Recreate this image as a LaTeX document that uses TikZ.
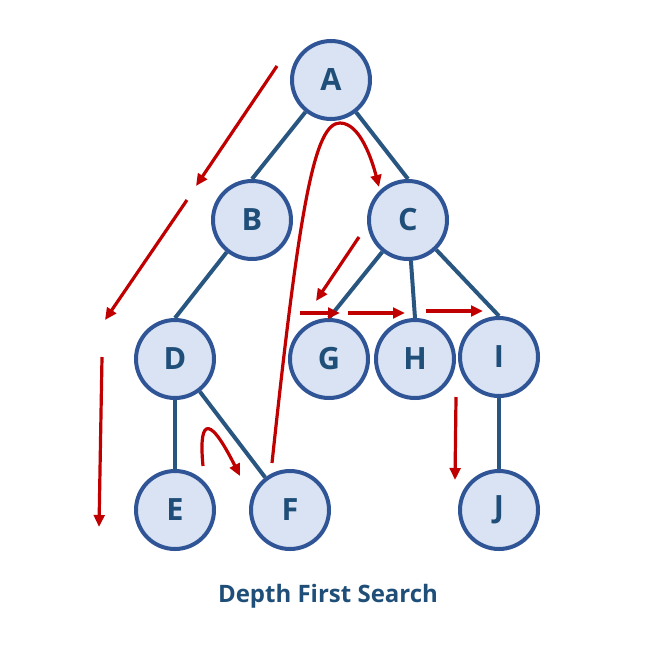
\documentclass[tikz,border=0pt]{standalone}
\usepackage{fontspec}
\setmainfont{Open Sans}
\usetikzlibrary{arrows.meta}
\definecolor{nodefill}{HTML}{DAE3F3}
\definecolor{nodeline}{HTML}{2F5597}
\definecolor{treeline}{HTML}{285680}
\definecolor{nodetext}{HTML}{1F4E79}
\definecolor{walkred}{HTML}{C00000}
\tikzstyle{vertex} = [circle, minimum size=58.5pt, inner sep=0pt, line width=3pt, draw=nodeline, fill=nodefill, text=nodetext, font=\fontsize{23}{23}\selectfont\bfseries]
\tikzstyle{branch} = [line width=3pt, draw=treeline]
\tikzstyle{walk} = [-{Triangle[length=9pt, width=8pt]}, line width=2.4pt, draw=walkred]
\tikzstyle{caption} = [text=nodetext, font=\fontsize{18}{18}\selectfont\bfseries, anchor=base]

\begin{document}
\begin{tikzpicture}[x=0.75pt, y=-0.75pt]
  \useasboundingbox (0,0) rectangle (652,650);

  \node (A) [vertex] at (331, 80) {A};
  \node (B) [vertex] at (252, 220) {B};
  \node (C) [vertex] at (408, 220) {C};
  \node (D) [vertex] at (175, 359) {D};
  \node (G) [vertex] at (329, 359) {G};
  \node (H) [vertex] at (415, 359) {H};
  \node (I) [vertex] at (499, 357) {I};
  \node (E) [vertex] at (175, 510) {E};
  \node (F) [vertex] at (290, 510) {F};
  \node (J) [vertex] at (499, 510) {J};

  \path [branch] (A) edge (B.north) (A) edge (C.north);
  \path [branch] (B) edge (D.north);
  \path [branch] (C) edge (G.north) (C) edge (H.north) (C) edge (I.north);
  \path [branch] (D) edge (E) (D) edge (F);
  \path [branch] (I) edge (J);

  % visiting order
  \coordinate (p1_s) at (277, 66);
  \coordinate (p1_e) at (196, 186);
  \coordinate (p2_s) at (187, 200);
  \coordinate (p2_e) at (105, 320);
  \coordinate (p3_s) at (102, 357);
  \coordinate (p3_e) at (99, 527);
  \coordinate (p4_s) at (203, 466);
  \coordinate (p4_e) at (240, 476);
  \coordinate (p5_s) at (272, 463);
  \coordinate (p5_m) at (340, 123);
  \coordinate (p5_e) at (379, 187);
  \coordinate (p6_s) at (359, 237);
  \coordinate (p6_e) at (316, 301);
  \coordinate (p7_s) at (300, 313);
  \coordinate (p7_e) at (340, 313);
  \coordinate (p8_s) at (348, 313);
  \coordinate (p8_e) at (405, 313);
  \coordinate (p9_s) at (426, 311);
  \coordinate (p9_e) at (483, 311);
  \coordinate (p10_s) at (456, 397);
  \coordinate (p10_e) at (455, 480);

  \draw [walk] (p1_s) -- (p1_e);
  \draw [walk] (p2_s) -- (p2_e);
  \draw [walk] (p3_s) -- (p3_e);
  \draw [walk] (p4_s) .. controls (199, 425) and (206, 408) .. (p4_e);
  \draw [walk] (p5_s) .. controls (300, 200) and (315, 123) .. (p5_m)
                      .. controls (360, 123) and (372, 160) .. (p5_e);
  \draw [walk] (p6_s) -- (p6_e);
  \draw [walk] (p7_s) -- (p7_e);
  \draw [walk] (p8_s) -- (p8_e);
  \draw [walk] (p9_s) -- (p9_e);
  \draw [walk] (p10_s) -- (p10_e);

  \node (title) [caption] at (328, 602) {Depth First Search};
\end{tikzpicture}
\end{document}
